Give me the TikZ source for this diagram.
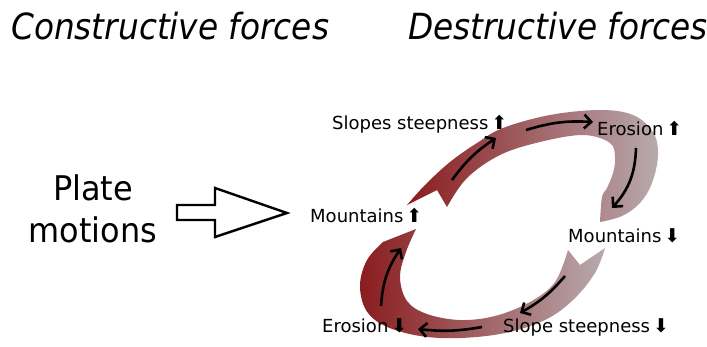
\documentclass[tikz,border=0pt]{standalone}
\usepackage{fontspec}
\setmainfont{DejaVu Sans}
\newfontfamily\titlefont[FakeStretch=0.91]{DejaVu Sans}
\newfontfamily\platefont[FakeStretch=0.94]{DejaVu Sans}
\usetikzlibrary{arrows.meta}
\definecolor{bandred}{RGB}{138,28,30}
\definecolor{bandgrey}{RGB}{184,170,174}
\newcommand\uarr{{\fontsize{19}{19}\selectfont ⬆}}
\newcommand\darr{{\fontsize{19}{19}\selectfont ⬇}}
\begin{document}
\begin{tikzpicture}[x=1pt,y=-1pt,
  lbl/.style={anchor=base west, inner sep=0pt, font=\fontsize{18}{20}\selectfont},
  ttl/.style={anchor=base west, inner sep=0pt, font=\titlefont\itshape\fontsize{36}{40}\selectfont},
  cyc/.style={line width=2.6pt, -{Straight Barb[length=7pt,width=14pt,line width=2.6pt]}},
  band/.style={left color=bandred, right color=bandgrey, draw=none},
  hollow/.style={draw=black, line width=2.4pt, fill=white, line join=miter}]
\useasboundingbox (0,0) rectangle (707,346);
\clip (0,0) rectangle (707,346);

% titles
\node[ttl] (cons) at (11,39) {Constructive forces};
\node[ttl] (dest) at (408,39) {Destructive forces};

% plate motions
\node[inner sep=0pt, align=center, font=\platefont\fontsize{34}{42}\selectfont, anchor=base] (plate) at (93,242) {Plate\\motions};

% hollow arrow
\draw[hollow] (177,205) coordinate (ha) -- (215,205) -- (215,188) -- (287,213) coordinate (hb) -- (215,237) -- (215,220) -- (177,220) -- cycle;

% upper band
\path[band] plot[smooth, tension=0.6] coordinates {(407,205) (425,185) (450,162) (477,143) (503,128) (550,115) (600,110) (633,115) (653,132) (658,155) (652,183) (640,203) (622,216) (600,222)}
  -- plot[smooth, tension=0.6] coordinates {(600,222) (602,197) (607,188) (613,173) (615,158) (610,143) (583,135) (540,142) (500,155) (467,178) (447,207)}
  -- (437,190) -- cycle;

% lower band
\path[band] (383,242) -- (416,229)
  -- plot[smooth, tension=0.6] coordinates {(416,229) (406,252) (400,277) (407,301) (427,314) (460,320) (495,316) (530,302) (555,282) (568,250)}
  -- (580,265) -- (605,248)
  -- plot[smooth, tension=0.6] coordinates {(605,248) (595,273) (573,300) (545,320) (505,333) (460,338) (420,336) (385,326) (366,310) (360,285) (367,260) (383,242)}
  -- cycle;

% labels
\node[lbl] (ss) at (332,129) {Slopes steepness\,\uarr};
\node[lbl] (eu) at (597,135) {Erosion\,\uarr};
\node[lbl] (mu) at (310,222) {Mountains\,\uarr};
\node[lbl] (md) at (568,242) {Mountains\,\darr};
\node[lbl] (ed) at (322,332) {Erosion\,\darr};
\node[lbl] (sd) at (503,332) {Slope steepness\,\darr};

% cycle arrows
\coordinate (a1s) at (452,180); \coordinate (a1e) at (496,138);
\coordinate (a2s) at (526,130); \coordinate (a2e) at (593,122);
\coordinate (a3s) at (636,148); \coordinate (a3e) at (612,208);
\coordinate (a4s) at (565,276); \coordinate (a4e) at (520,313);
\coordinate (a5s) at (482,327); \coordinate (a5e) at (418,329);
\coordinate (a6s) at (381,306); \coordinate (a6e) at (401,248);
\draw[cyc] (a1s) to[bend left=10] (a1e);
\draw[cyc] (a2s) to[bend left=10] (a2e);
\draw[cyc] (a3s) to[bend left=20] (a3e);
\draw[cyc] (a4s) to[bend left=10] (a4e);
\draw[cyc] (a5s) to[bend left=8] (a5e);
\draw[cyc] (a6s) to[bend left=15] (a6e);
\end{tikzpicture}
\end{document}
